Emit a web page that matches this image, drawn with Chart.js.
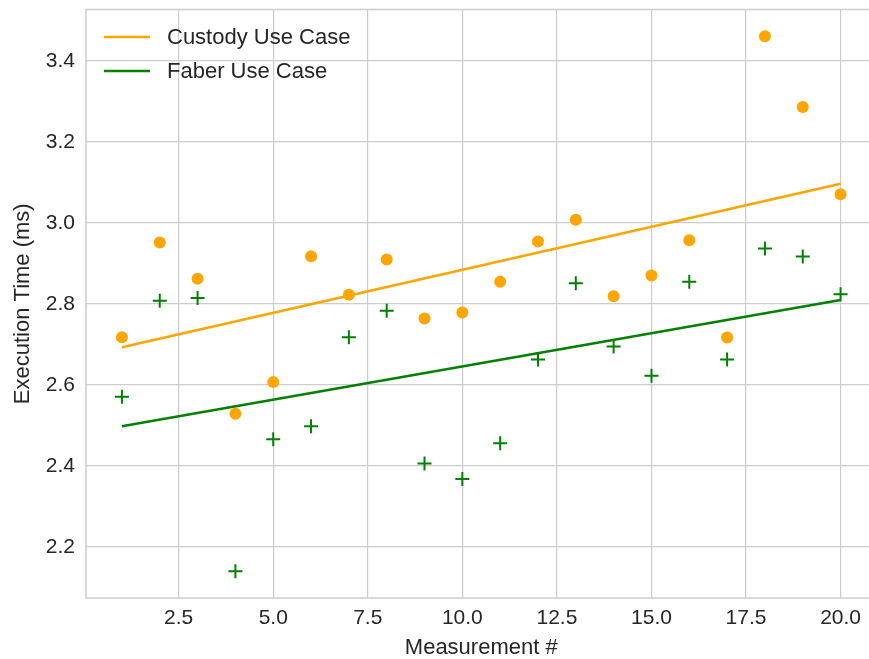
<!DOCTYPE html>
<html>
<head>
<meta charset="utf-8">
<script src="https://cdn.jsdelivr.net/npm/chart.js@4"></script>
<style>
  html, body { margin: 0; padding: 0; background: #fff; overflow: hidden; }
  #wrap { width: 880px; height: 659px; }
  #timeChart { display: block; width: 880px; height: 659px; }
</style>
</head>
<body>
<div id="wrap"><canvas id="timeChart" width="880" height="659"></canvas></div>
<script>
const measurements = [1, 2, 3, 4, 5, 6, 7, 8, 9, 10, 11, 12, 13, 14, 15, 16, 17, 18, 19, 20];
const custodyTimes = [2.718, 2.952, 2.862, 2.529, 2.607, 2.918, 2.823, 2.910, 2.764, 2.779,
                      2.855, 2.954, 3.008, 2.819, 2.870, 2.957, 2.717, 3.461, 3.286, 3.071];
const faberTimes = [2.571, 2.808, 2.815, 2.140, 2.466, 2.498, 2.718, 2.783, 2.406, 2.368,
                    2.456, 2.663, 2.851, 2.695, 2.623, 2.855, 2.663, 2.937, 2.917, 2.824];
const trendX = [1, 20];
const custodyTrend = [2.693, 3.097];
const faberTrend = [2.498, 2.810];
const xTicks = [2.5, 5.0, 7.5, 10.0, 12.5, 15.0, 17.5, 20.0];
const yTicks = [2.2, 2.4, 2.6, 2.8, 3.0, 3.2, 3.4];

const textColor = '#262626';
const gridColor = '#cccccc';
const fontFamily = "'Liberation Sans', Arial, sans-serif";

const toPoints = (xs, ys) => xs.map((x, i) => ({ x: x, y: ys[i] }));

// frame around the plot area, like the matplotlib spines
const framePlugin = {
    id: 'frame',
    beforeDatasetsDraw(chart) {
        const a = chart.chartArea;
        const c = chart.ctx;
        c.save();
        c.strokeStyle = gridColor;
        c.lineWidth = 1.5;
        c.strokeRect(a.left, a.top, a.right - a.left, a.bottom - a.top);
        c.restore();
    }
};

// legend drawn inside the plot, upper left
const legendPlugin = {
    id: 'innerLegend',
    afterDraw(chart) {
        const a = chart.chartArea;
        const c = chart.ctx;
        const items = chart.data.datasets.filter(d => d.inLegend);
        c.save();
        c.font = '22px ' + fontFamily;
        c.textBaseline = 'middle';
        c.fillStyle = textColor;
        items.forEach((d, i) => {
            const y = a.top + 27.5 + i * 34;
            c.strokeStyle = d.borderColor;
            c.lineWidth = d.borderWidth;
            c.beginPath();
            c.moveTo(a.left + 18, y);
            c.lineTo(a.left + 64, y);
            c.stroke();
            c.fillText(d.label, a.left + 81, y + 1);
        });
        c.restore();
    }
};

// drop the label overhang padding so the plot area sits where we want it
const noOverhang = (scale) => {
    scale.paddingTop = 0;
    scale.paddingBottom = 0;
    scale.paddingLeft = 0;
    scale.paddingRight = 0;
};

new Chart(document.getElementById('timeChart'), {
    type: 'scatter',
    data: {
        datasets: [
            {
                label: 'Custody Use Case',
                type: 'line',
                inLegend: true,
                data: toPoints(trendX, custodyTrend),
                borderColor: 'orange',
                borderWidth: 2.5,
                pointRadius: 0,
                fill: false
            },
            {
                label: 'Faber Use Case',
                type: 'line',
                inLegend: true,
                data: toPoints(trendX, faberTrend),
                borderColor: 'green',
                borderWidth: 2.5,
                pointRadius: 0,
                fill: false
            },
            {
                label: 'Custody points',
                data: toPoints(measurements, custodyTimes),
                pointStyle: 'circle',
                pointRadius: 6,
                backgroundColor: 'orange',
                borderColor: 'orange',
                borderWidth: 0
            },
            {
                label: 'Faber points',
                data: toPoints(measurements, faberTimes),
                pointStyle: 'cross',
                pointRadius: 7,
                borderColor: 'green',
                backgroundColor: 'green',
                borderWidth: 2
            }
        ]
    },
    options: {
        responsive: false,
        animation: false,
        devicePixelRatio: 1,
        layout: { autoPadding: false, padding: { top: 9.5, right: 3.5, left: 0, bottom: 0 } },
        plugins: {
            legend: { display: false },
            tooltip: { enabled: false }
        },
        scales: {
            x: {
                type: 'linear',
                min: 0.05,
                max: 20.95,
                afterBuildTicks: (scale) => { scale.ticks = xTicks.map(v => ({ value: v })); },
                afterFit: (scale) => { scale.height = 61; noOverhang(scale); },
                grid: { color: gridColor, lineWidth: 1.2, drawTicks: false },
                border: { display: false },
                ticks: {
                    color: textColor,
                    padding: 8,
                    maxRotation: 0,
                    autoSkip: false,
                    font: { family: fontFamily, size: 21 },
                    callback: (v) => Number(v).toFixed(1)
                },
                title: {
                    display: true,
                    text: 'Measurement #',
                    color: textColor,
                    padding: 0,
                    font: { family: fontFamily, size: 22, lineHeight: 1 }
                }
            },
            y: {
                min: 2.074,
                max: 3.527,
                afterBuildTicks: (scale) => { scale.ticks = yTicks.map(v => ({ value: v })); },
                afterFit: (scale) => { scale.width = 86; noOverhang(scale); },
                grid: { color: gridColor, lineWidth: 1.2, drawTicks: false },
                border: { display: false },
                ticks: {
                    color: textColor,
                    padding: 11,
                    autoSkip: false,
                    font: { family: fontFamily, size: 21 },
                    callback: (v) => Number(v).toFixed(1)
                },
                title: {
                    display: true,
                    text: 'Execution Time (ms)',
                    color: textColor,
                    padding: { top: 11.5, bottom: 0 },
                    font: { family: fontFamily, size: 22, lineHeight: 1 }
                }
            }
        }
    },
    plugins: [framePlugin, legendPlugin]
});
</script>
</body>
</html>
